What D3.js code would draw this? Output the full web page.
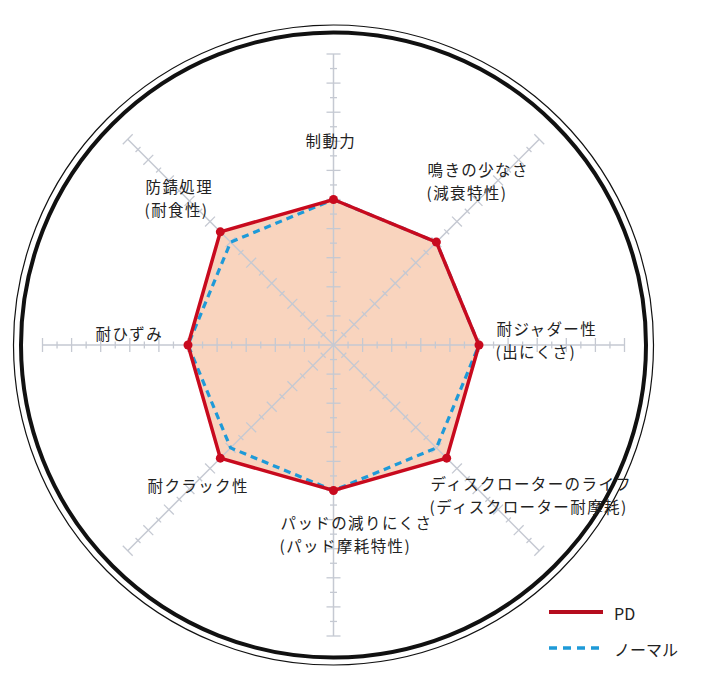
<!DOCTYPE html>
<html>
<head>
<meta charset="utf-8">
<script src="https://cdn.jsdelivr.net/npm/d3@7"></script>
<style>
  html, body { margin: 0; padding: 0; background: #fff; }
  svg { display: block; }
  text { font-family: "Noto Sans CJK JP", "Noto Sans", sans-serif; fill: #222; }
</style>
</head>
<body>
<div id="chart"></div>
<script>
// categories (clockwise from top), two-line labels split in two arrays
let labelMain = ["制動力", "鳴きの少なさ", "耐ジャダー性", "ディスクローターのライフ",
                 "パッドの減りにくさ", "耐クラック性", "耐ひずみ", "防錆処理"];
let labelSub = ["", "(減衰特性)", "(出にくさ)", "(ディスクローター耐摩耗)",
                "(パッド摩耗特性)", "", "", "(耐食性)"];

// series values (scale 0-10)
let pdValues = [5, 5, 5, 5.5, 5, 5.5, 5, 5.5];
let normalValues = [5, 5, 5, 5, 5, 5, 5, 5];

let seriesNames = ["PD", "ノーマル"];

// axis ticks every half unit, long tick on whole units
let tickValues = d3.range(0.5, 10.01, 0.5);

let svgWidth = 720;
let svgHeight = 697;
let cx = 333.5;
let cy = 345;
let axisRadius = 291;
let lineGap = 22.5;

// label offsets from the centre (layout only)
let labelOffset = [
    [-28, -205], [94, -176], [163, -17], [97, 138],
    [-53, 177], [-186, 140], [-238, -12], [-188, -159]
];

let redColor = "#c80a1e";
let blueColor = "#1e9ad8";
let gridColor = "#c5c9d2";

let svg = d3.select("#chart")
    .append("svg")
    .attr("width", svgWidth)
    .attr("height", svgHeight);

svg.append("rect")
    .attr("width", svgWidth)
    .attr("height", svgHeight)
    .attr("fill", "#fff");

// outer double ring
svg.append("circle")
    .attr("cx", cx).attr("cy", cy).attr("r", 320)
    .attr("fill", "none").attr("stroke", "#111").attr("stroke-width", 1.2);
svg.append("circle")
    .attr("cx", cx).attr("cy", cy).attr("r", 312.5)
    .attr("fill", "none").attr("stroke", "#111").attr("stroke-width", 4);

let rScale = d3.scaleLinear()
    .domain([0, 10])
    .range([0, axisRadius]);

let angle = d3.scalePoint()
    .domain(d3.range(labelMain.length))
    .range([0, 2 * Math.PI * (labelMain.length - 1) / labelMain.length]);

let chartGroup = svg.append("g")
    .attr("transform", `translate(${cx}, ${cy})`);

let radarLine = d3.lineRadial()
    .angle((d, i) => angle(i))
    .radius(d => rScale(d))
    .curve(d3.curveLinearClosed);

// PD fill first
chartGroup.append("path")
    .datum(pdValues)
    .attr("d", radarLine)
    .attr("fill", "#f9d4be")
    .attr("stroke", "none");

// axes with ticks
let axisGroups = chartGroup.selectAll(".axis")
    .data(labelMain)
    .enter()
    .append("g")
    .attr("class", "axis")
    .attr("transform", (d, i) => `rotate(${angle(i) * 180 / Math.PI})`);

axisGroups.append("line")
    .attr("x1", 0).attr("y1", 0)
    .attr("x2", 0).attr("y2", -rScale(10))
    .attr("stroke", gridColor)
    .attr("stroke-width", 1.5);

axisGroups.selectAll(".tick")
    .data(tickValues)
    .enter()
    .append("line")
    .attr("class", "tick")
    .attr("x1", d => Number.isInteger(d) ? -7 : -3.5)
    .attr("x2", d => Number.isInteger(d) ? 7 : 3.5)
    .attr("y1", d => -rScale(d))
    .attr("y2", d => -rScale(d))
    .attr("stroke", gridColor)
    .attr("stroke-width", 1.3);

// normal (dashed) under PD
chartGroup.append("path")
    .datum(normalValues)
    .attr("d", radarLine)
    .attr("fill", "none")
    .attr("stroke", blueColor)
    .attr("stroke-width", 3.2)
    .attr("stroke-dasharray", "7,5");

chartGroup.append("path")
    .datum(pdValues)
    .attr("d", radarLine)
    .attr("fill", "none")
    .attr("stroke", redColor)
    .attr("stroke-width", 3.5)
    .attr("stroke-linejoin", "miter");

chartGroup.selectAll(".pd-dot")
    .data(pdValues)
    .enter()
    .append("circle")
    .attr("class", "pd-dot")
    .attr("cx", (d, i) => rScale(d) * Math.sin(angle(i)))
    .attr("cy", (d, i) => -rScale(d) * Math.cos(angle(i)))
    .attr("r", 4.5)
    .attr("fill", redColor);

// category labels, one text per line
let labelGroups = chartGroup.selectAll(".cat-label")
    .data(labelMain)
    .enter()
    .append("g")
    .attr("class", "cat-label")
    .attr("transform", (d, i) => `translate(${labelOffset[i][0]}, ${labelOffset[i][1]})`);

labelGroups.append("text")
    .attr("font-size", "15.5px")
    .attr("letter-spacing", "1.4px")
    .attr("dominant-baseline", "central")
    .text(d => d);

labelGroups.filter((d, i) => labelSub[i] !== "")
    .append("text")
    .attr("x", -1)
    .attr("y", lineGap)
    .attr("font-size", "15.5px")
    .attr("letter-spacing", "1.4px")
    .attr("dominant-baseline", "central")
    .text((d) => labelSub[labelMain.indexOf(d)]);

// legend
let legend = svg.append("g")
    .attr("transform", "translate(549, 612)");

let legendItems = legend.selectAll(".legend-item")
    .data(seriesNames)
    .enter()
    .append("g")
    .attr("class", "legend-item")
    .attr("transform", (d, i) => `translate(0, ${i * 36})`);

legendItems.append("line")
    .attr("x1", 0).attr("x2", 54)
    .attr("y1", 0).attr("y2", 0)
    .attr("stroke", (d, i) => i === 0 ? "#b50d1e" : blueColor)
    .attr("stroke-width", (d, i) => i === 0 ? 4 : 3.5)
    .attr("stroke-dasharray", (d, i) => i === 0 ? null : "8,6");

legendItems.append("text")
    .attr("x", 65)
    .attr("y", 1)
    .attr("dominant-baseline", "central")
    .attr("font-size", "16px")
    .attr("fill", "#333")
    .text(d => d);
</script>
</body>
</html>
